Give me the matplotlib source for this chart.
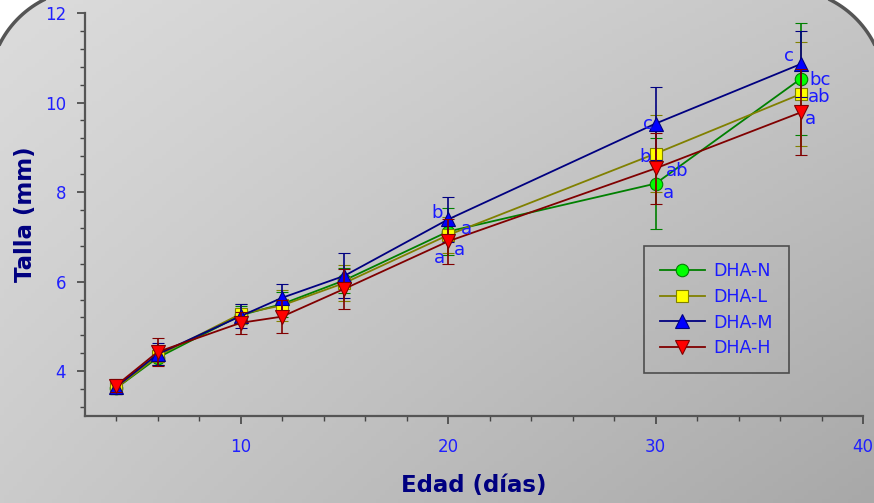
import numpy as np
import matplotlib
matplotlib.use("Agg")
import matplotlib.pyplot as plt
from matplotlib.patches import Polygon
from matplotlib.lines import Line2D
from matplotlib.ticker import MultipleLocator

# ---------------- data ----------------
days = [4, 6, 10, 12, 15, 20, 30, 37]
series_names = ["DHA-N", "DHA-L", "DHA-M", "DHA-H"]
talla_N = [3.62, 4.30, 5.25, 5.50, 6.03, 7.12, 8.19, 10.53]
talla_L = [3.62, 4.34, 5.28, 5.47, 5.97, 7.04, 8.86, 10.19]
talla_M = [3.65, 4.38, 5.23, 5.64, 6.13, 7.39, 9.53, 10.86]
talla_H = [3.68, 4.43, 5.08, 5.22, 5.84, 6.90, 8.53, 9.78]
err_N = [0.12, 0.15, 0.20, 0.28, 0.28, 0.52, 1.02, 1.25]
err_L = [0.12, 0.20, 0.22, 0.35, 0.40, 0.40, 0.86, 1.17]
err_M = [0.15, 0.24, 0.27, 0.31, 0.50, 0.50, 0.81, 0.74]
err_H = [0.14, 0.32, 0.24, 0.36, 0.44, 0.50, 0.80, 0.96]
letter_days = [20, 30, 37]
letters_N = ["a", "a", "bc"]
letters_L = ["a", "b", "ab"]
letters_M = ["b", "c", "c"]
letters_H = ["a", "ab", "a"]
xticks = [10, 20, 30, 40]
yticks = [4, 6, 8, 10, 12]

# ---------------- styles ----------------
W, H = 874, 503
fig = plt.figure(figsize=(W / 100, H / 100), dpi=100)
fig.patch.set_facecolor("white")

# background gradient clipped to a rounded-top frame (pixel coords, y up)
bg = fig.add_axes([0, 0, 1, 1])
bg.set_xlim(0, W)
bg.set_ylim(0, H)
bg.axis("off")
tl, tr, bl, br = 0xdc, 0xc6, 0xcb, 0xa8
u = np.linspace(0, 1, 200)[None, :]
v = np.linspace(0, 1, 120)[:, None]   # v=0 top row
grad = (tl * (1 - u) * (1 - v) + tr * u * (1 - v) + bl * (1 - u) * v + br * u * v) / 255.0
img = bg.imshow(np.dstack([grad, grad, grad]), extent=[0, W, 0, H], origin="upper",
                aspect="auto", zorder=0)

r = 100.0
left, right, top, bottom = -11.0, W + 11.0, H + 11.0, -50.0
t1 = np.linspace(np.pi, np.pi / 2, 40)
t2 = np.linspace(np.pi / 2, 0, 40)
pts = [(left, bottom)]
pts += list(zip(left + r + r * np.cos(t1), top - r + r * np.sin(t1)))
pts += list(zip(right - r + r * np.cos(t2), top - r + r * np.sin(t2)))
pts += [(right, bottom)]
frame = Polygon(pts, closed=True, facecolor="none", edgecolor="#555555",
                linewidth=2.5, zorder=2)
bg.add_patch(frame)
img.set_clip_path(frame)

ax = fig.add_axes([85 / W, (H - 416) / H, (863 - 85) / W, (416 - 13) / H])
ax.set_facecolor("none")

line_cols = ["#008000", "#808000", "#000080", "#800000"]
face_cols = ["#00ff00", "#ffff00", "#0000ff", "#ff0000"]
markers = ["o", "s", "^", "v"]
msizes = [9, 8, 9.5, 9.5]
all_vals = [talla_N, talla_L, talla_M, talla_H]
all_errs = [err_N, err_L, err_M, err_H]
all_letters = [letters_N, letters_L, letters_M, letters_H]
# label offsets in pixels (dx right, dy down) per series per letter day
offsets_px = [
    [(18.5, -2.7), (13, 9), (19, 0.7)],
    [(-8.5, 23), (-10.5, 3), (18, 3.4)],
    [(-10.5, -6), (-8, 0), (-12, -8)],
    [(11.5, 8.3), (21.7, 2.4), (10, 6.6)],
]

handles = []
for i in range(4):
    ax.errorbar(days, all_vals[i], yerr=all_errs[i], color=line_cols[i], lw=1.3,
                elinewidth=1.2, capsize=4, capthick=1.2,
                marker=markers[i], markersize=msizes[i], markerfacecolor=face_cols[i],
                markeredgecolor=line_cols[i], markeredgewidth=0.8, zorder=3 + i)
    handles.append(Line2D([], [], color=line_cols[i], lw=1.3, marker=markers[i],
                          markersize=msizes[i], markerfacecolor=face_cols[i],
                          markeredgecolor=line_cols[i], markeredgewidth=0.8,
                          label=series_names[i]))

for i in range(4):
    for j, d in enumerate(letter_days):
        k = days.index(d)
        dx, dy = offsets_px[i][j]
        ax.annotate(all_letters[i][j], (d, all_vals[i][k]),
                    xytext=(dx * 0.72, -dy * 0.72), textcoords="offset points",
                    ha="center", va="center", fontsize=13, color="#1a1aff", zorder=10)

ax.set_xlim(2.5, 40)
ax.set_ylim(3, 12)
ax.set_xticks(xticks)
ax.set_yticks(yticks)
ax.xaxis.set_minor_locator(MultipleLocator(2))
ax.yaxis.set_minor_locator(MultipleLocator(0.4))
for s in ["top", "right"]:
    ax.spines[s].set_visible(False)
for s in ["left", "bottom"]:
    ax.spines[s].set_color("#555555")
    ax.spines[s].set_linewidth(1.6)
ax.tick_params(which="major", length=6, width=1.2, color="#444444",
               labelcolor="#2020ff", labelsize=12)
ax.tick_params(which="minor", length=3.6, width=1.0, color="#444444")
ax.tick_params(axis="x", which="major", pad=9.5)
ax.tick_params(axis="y", which="major", pad=7.5)

ax.set_xlabel("Edad (días)", fontsize=16.5, fontweight="bold", color="#000080", labelpad=13)
ax.set_ylabel("Talla (mm)", fontsize=16.5, fontweight="bold", color="#000080", labelpad=6)

leg = ax.legend(handles=handles, loc="lower left",
                bbox_to_anchor=((644 - 85) / 778, (416 - 373) / 403),
                borderaxespad=0, frameon=True, fancybox=False, fontsize=12.5,
                labelcolor="#1a1aff", handlelength=2.6, borderpad=0.9,
                labelspacing=0.45, handletextpad=0.5)
leg.get_frame().set_facecolor("none")
leg.get_frame().set_edgecolor("#333333")
leg.get_frame().set_linewidth(1.2)

fig.savefig("out.png", dpi=100)
